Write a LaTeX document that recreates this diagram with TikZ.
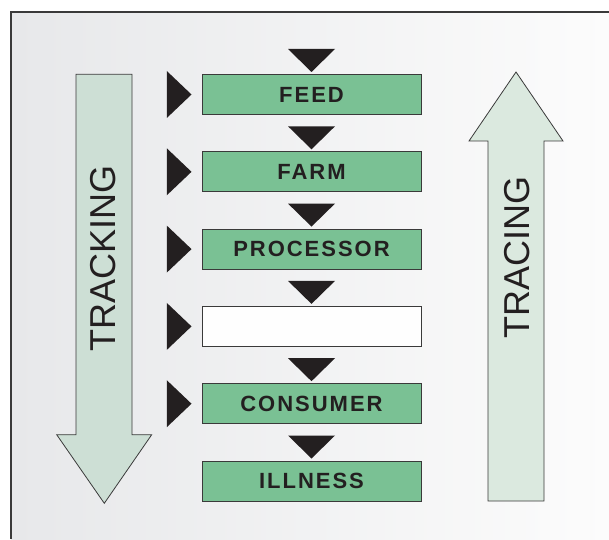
\documentclass[tikz,border=0pt]{standalone}
\usepackage{fontspec}
\setmainfont{Liberation Sans}
\newfontfamily\boxfont[LetterSpace=9]{Liberation Sans}
\usetikzlibrary{calc}
\definecolor{bgl}{HTML}{E7E8EA}
\definecolor{bgr}{HTML}{FCFCFC}
\definecolor{boxgreen}{HTML}{7AC194}
\definecolor{boxline}{HTML}{3A3A3A}
\definecolor{trif}{HTML}{231F20}
\definecolor{trackfill}{HTML}{CDDFD5}
\definecolor{tracefill}{HTML}{DBE9DF}
\definecolor{textdark}{HTML}{231F20}
\tikzset{
  stagebox/.style={draw=boxline, line width=1pt, fill=boxgreen, minimum width=219pt, minimum height=40pt, inner sep=0pt, text=textdark, font=\boxfont\bfseries\fontsize{22}{22}\selectfont},
  emptybox/.style={stagebox, fill=white!60!bgr},
  tri/.style={fill=trif},
  bigarrow/.style={draw=boxline, line width=0.8pt, line join=miter},
  arrowtext/.style={rotate=90, text=textdark, font=\fontsize{36}{36}\selectfont, inner sep=0pt},
  framelines/.style={draw=boxline, line width=1.2pt}
}
\begin{document}
\begin{tikzpicture}[x=1pt,y=1pt]
\useasboundingbox (0,0) rectangle (609,539);
\shade[left color=bgl, right color=bgr] (11,0) rectangle (609,527);
\draw[framelines] (11,0) -- (11,527) -- (609,527);

\node[stagebox] (feed) at (311.5,444.5) {FEED};
\node[stagebox] (farm) at (311.5,367.2) {FARM};
\node[stagebox] (proc) at (311.5,289.9) {PROCESSOR};
\node[emptybox] (blank) at (311.5,212.6) {};
\node[stagebox] (cons) at (311.5,135.3) {CONSUMER};
\node[stagebox] (ill) at (311.5,58.0) {ILLNESS};

\foreach \b in {feed,farm,proc,blank,cons,ill}{
  \fill[tri] ($(\b.north)+(0,2)$) -- ++(23.5,23) -- ++(-47,0) -- cycle;
}
\foreach \b in {feed,farm,proc,blank,cons}{
  \fill[tri] ($(\b.west)+(-10,0)$) -- ++(-24.7,23.5) -- ++(0,-47) -- cycle;
}

\draw[bigarrow, fill=trackfill] (76,464.7) -- (132,464.7) -- (132,104.3) -- (151.7,104.3) -- (104.3,35.7) -- (56.7,104.3) -- (76,104.3) -- cycle;
\node[arrowtext] (tracking) at (103.5,280.5) {TRACKING};

\draw[bigarrow, fill=tracefill] (488,38) -- (544,38) -- (544,398) -- (563,398) -- (516,467) -- (469,398) -- (488,398) -- cycle;
\node[arrowtext] (tracing) at (517.5,282) {TRACING};
\end{tikzpicture}
\end{document}
